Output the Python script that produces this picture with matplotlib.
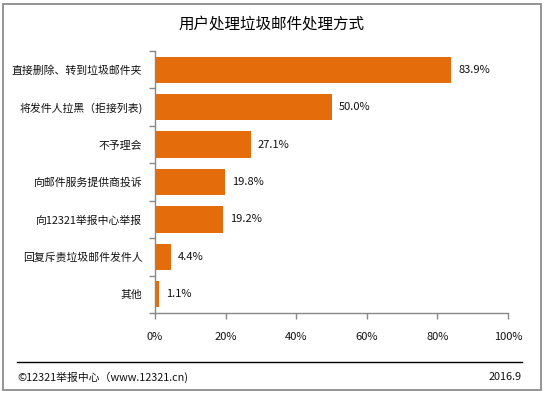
import numpy as np
import matplotlib.pyplot as plt
from matplotlib.patches import Rectangle
from matplotlib.lines import Line2D

plt.rcParams['font.family'] = ['Noto Sans CJK SC', 'DejaVu Sans']

# data
categories = ['直接删除、转到垃圾邮件夹', '将发件人拉黑（拒接列表)', '不予理会',
              '向邮件服务提供商投诉', '向12321举报中心举报', '回复斥责垃圾邮件发件人', '其他']
values = [83.9, 50.0, 27.1, 19.8, 19.2, 4.4, 1.1]
xticks = [0, 20, 40, 60, 80, 100]

bar_color = '#E46C0A'
axis_color = '#888888'

fig = plt.figure(figsize=(5.44, 3.94), dpi=100)
ax = fig.add_axes([155 / 544, 81 / 394, 353 / 544, 262 / 394])

y = np.arange(len(categories))
ax.barh(y, values, height=0.7, color=bar_color)
for yi, v in zip(y, values):
    ax.text(v + 2.0, yi, '%.1f%%' % v, va='center', ha='left', fontsize=8, color='#111111')

ax.set_xlim(0, 100)
ax.set_ylim(len(categories) - 0.5, -0.5)
ax.set_xticks(xticks)
ax.set_xticklabels(['%d%%' % t for t in xticks], fontsize=8, color='#111111')
ax.set_yticks(y)
ax.set_yticklabels(categories, fontsize=7.8, color='#111111')
ax.set_yticks(np.arange(-0.5, len(categories)), minor=True)
ax.tick_params(axis='y', which='major', length=0, pad=9)
ax.tick_params(axis='y', which='minor', length=4, color=axis_color, width=1)
ax.tick_params(axis='x', length=4, color=axis_color, width=1, pad=10)

for s in ['top', 'right']:
    ax.spines[s].set_visible(False)
for s in ['left', 'bottom']:
    ax.spines[s].set_color(axis_color)
    ax.spines[s].set_linewidth(1)

# title and footer
fig.text(272 / 544, 1 - 24 / 394, '用户处理垃圾邮件处理方式', ha='center', va='center',
         fontsize=11.2, color='#000000')
fig.add_artist(Line2D([17 / 544, 522 / 544], [1 - 362 / 394] * 2, color='black', lw=1))
fig.text(17 / 544, 1 - 377 / 394, '©12321举报中心（www.12321.cn)', ha='left', va='center',
         fontsize=7.8, color='#111111')
fig.text(522 / 544, 1 - 377 / 394, '2016.9', ha='right', va='center',
         fontsize=7.8, color='#111111')

# outer frame
fig.add_artist(Rectangle((3 / 544, 4 / 394), 538 / 544, 386 / 394, transform=fig.transFigure,
                         fill=False, edgecolor='#8c8c8c', lw=1.3))

fig.savefig('out.png', dpi=100)
